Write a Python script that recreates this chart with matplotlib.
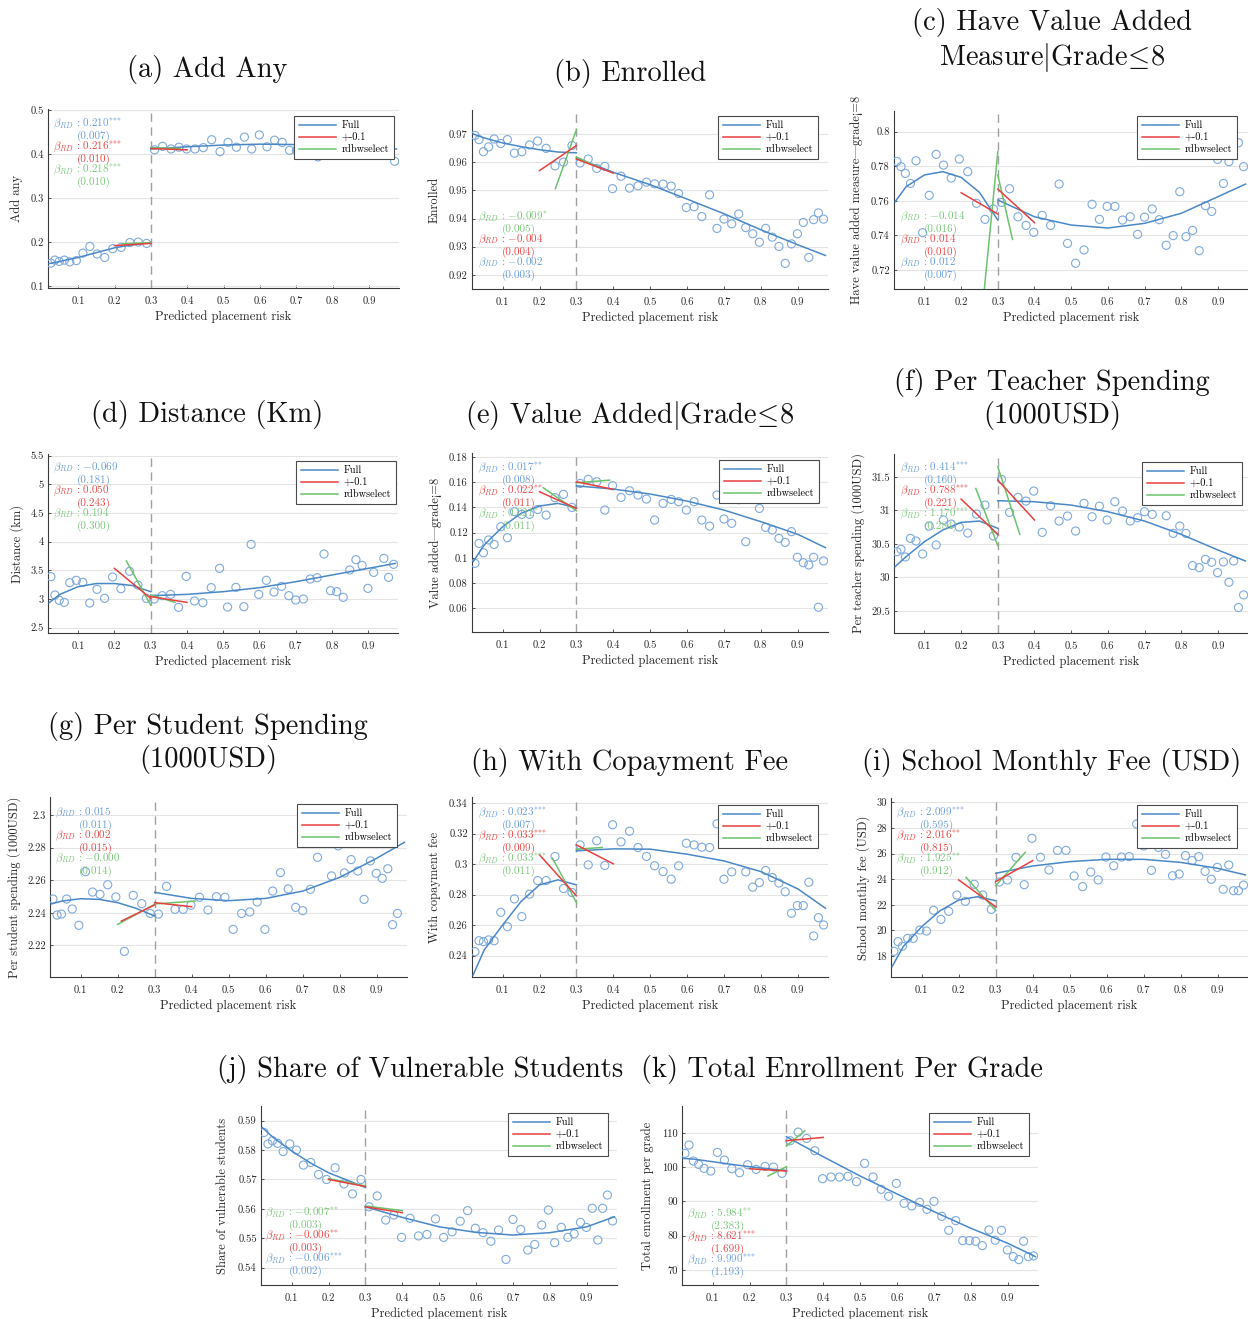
import numpy as np
import matplotlib
matplotlib.use("Agg")
import matplotlib.pyplot as plt
from matplotlib.ticker import FuncFormatter

plt.rcParams['font.family'] = ['cmr10', 'DejaVu Serif']
plt.rcParams['mathtext.fontset'] = 'cm'
plt.rcParams['axes.unicode_minus'] = False
plt.rcParams['axes.formatter.use_mathtext'] = True

nan = float('nan')

# ---------------- common running variable bins ----------------
x_left = [0.025, 0.036, 0.048, 0.062, 0.077, 0.095, 0.113, 0.132, 0.152, 0.173,
          0.195, 0.218, 0.242, 0.265, 0.288]
x_right = [0.310, 0.332, 0.355, 0.377, 0.398, 0.421, 0.444, 0.467, 0.490, 0.512,
           0.535, 0.557, 0.577, 0.598, 0.619, 0.640, 0.661, 0.681, 0.700, 0.721,
           0.740, 0.759, 0.778, 0.796, 0.813, 0.831, 0.849, 0.866, 0.883, 0.899,
           0.915, 0.930, 0.943, 0.956, 0.970]
fit_x_left = [0.02, 0.05, 0.10, 0.15, 0.20, 0.25, 0.30]
fit_x_right = [0.30, 0.40, 0.50, 0.60, 0.70, 0.80, 0.90, 0.975]
x_ticks = [0.1, 0.2, 0.3, 0.4, 0.5, 0.6, 0.7, 0.8, 0.9]
legend_labels = ['Full', '+-0.1', 'rdbwselect']

# ---------------- (a) Add Any ----------------
a_left = [0.152, 0.159, 0.156, 0.159, 0.155, 0.158, 0.175, 0.190, 0.173, 0.165, 0.185, 0.188, 0.199, 0.200, 0.197]
a_right = [0.410, 0.418, 0.412, 0.416, 0.412, 0.412, 0.415, 0.433, 0.406, 0.427, 0.416, 0.439, 0.412, 0.444, 0.417,
           0.432, 0.427, 0.409, 0.409, nan, nan, 0.394, nan, nan, nan, nan, nan, nan, nan, nan, nan, nan, nan, 0.412, 0.384]
a_fit_left = [0.151, 0.156, 0.165, 0.176, 0.187, 0.194, 0.199]
a_fit_right = [0.412, 0.417, 0.421, 0.423, 0.422, 0.420, 0.416, 0.412]
a_red_x = [0.20, 0.30, 0.30, 0.40]
a_red_y = [0.192, 0.197, 0.413, 0.410]
a_green_x = [0.22, 0.30, 0.30, 0.38]
a_green_y = [0.196, 0.199, 0.415, 0.413]
a_beta = [0.210, 0.216, 0.218]
a_se = [0.007, 0.010, 0.010]
a_stars = ['***', '***', '***']

# ---------------- (b) Enrolled ----------------
b_left = [0.9695, 0.968, 0.9637, 0.9654, 0.9682, 0.9666, 0.968, 0.9632, 0.9637, 0.9661, 0.9675, 0.9649, 0.9587, 0.9600, 0.9659]
b_right = [0.9597, 0.9611, 0.9578, 0.9585, 0.9506, 0.955, 0.9508, 0.9516, 0.9529, 0.9523, 0.9522, 0.9515, 0.9489, 0.9439,
           0.9442, 0.9407, 0.9484, 0.9365, 0.9398, 0.9381, 0.9416, 0.9368, 0.9346, 0.9316, 0.9365, 0.9334, 0.9301, 0.9241,
           0.931, 0.9346, 0.9386, 0.9262, 0.9396, 0.942, 0.9398]
b_fit_left = [0.9700, 0.9686, 0.9668, 0.9655, 0.9644, 0.9636, 0.9633]
b_fit_right = [0.9615, 0.9564, 0.9520, 0.9469, 0.9417, 0.9360, 0.9307, 0.9269]
b_red_x = [0.20, 0.30, 0.30, 0.40]
b_red_y = [0.9570, 0.9659, 0.9611, 0.9561]
b_green_x = [0.243, 0.30, 0.30, 0.36]
b_green_y = [0.9506, 0.9715, 0.9618, 0.9582]
b_beta = [-0.002, -0.004, -0.009]
b_se = [0.003, 0.004, 0.005]
b_stars = ['', '', '*']

# ---------------- (c) Have value added measure ----------------
c_left = [0.7828, 0.7798, 0.7759, 0.7701, 0.7832, 0.7416, 0.7632, 0.7869, 0.7807, 0.7732, 0.7842, 0.7769, 0.7586, 0.7493, 0.7553]
c_right = [0.7591, 0.767, 0.7508, 0.7458, 0.7418, 0.7516, 0.7458, 0.7697, 0.7354, 0.7239, 0.7316, 0.758, 0.7493, 0.7568,
           0.7568, 0.7489, 0.7508, 0.7406, 0.7506, 0.7553, 0.7491, 0.7343, 0.7399, 0.7653, 0.7393, 0.7429, 0.7312, 0.7572,
           0.7539, 0.784, 0.7701, 0.7827, nan, 0.7936, 0.7798]
c_fit_left = [0.7595, 0.7682, 0.7750, 0.7769, 0.7736, 0.7649, 0.7489]
c_fit_right = [0.7605, 0.7508, 0.7460, 0.7443, 0.7470, 0.7528, 0.7624, 0.7697]
c_red_x = [0.20, 0.30, 0.30, 0.40]
c_red_y = [0.7647, 0.7524, 0.7668, 0.7474]
c_green_x = [0.26, 0.30, 0.30, 0.34]
c_green_y = [0.702, 0.7885, 0.775, 0.7377]
c_beta = [0.012, 0.014, -0.014]
c_se = [0.007, 0.010, 0.016]
c_stars = ['', '', '']

# ---------------- (d) Distance ----------------
d_left = [3.390, 3.070, 2.977, 2.942, 3.285, 3.326, 3.291, 2.930, 3.169, 3.012, 3.384, 3.180, 3.483, 3.244, 3.012]
d_right = [3.0, 3.058, 3.081, 2.855, 3.395, 2.965, 2.936, 3.198, 3.535, 2.860, 3.203, 2.866, 3.953, 3.081, 3.326,
           3.122, 3.221, 3.058, 2.983, 3.0, 3.349, 3.372, 3.785, 3.145, 3.128, 3.029, 3.506, 3.686, 3.587, 3.186,
           3.465, nan, 3.709, 3.378, 3.605]
d_fit_left = [2.936, 3.081, 3.215, 3.270, 3.270, 3.235, 3.128]
d_fit_right = [3.058, 3.081, 3.128, 3.198, 3.302, 3.419, 3.535, 3.622]
d_red_x = [0.20, 0.30, 0.30, 0.40]
d_red_y = [3.535, 3.012, 3.041, 2.942]
d_green_x = [0.233, 0.30, 0.30, 0.367]
d_green_y = [3.663, 2.895, 3.070, 2.942]
d_beta = [-0.069, 0.050, 0.194]
d_se = [0.181, 0.243, 0.300]
d_stars = ['', '', '']

# ---------------- (e) Value added ----------------
e_left = [0.0956, 0.1114, 0.1040, 0.1141, 0.1106, 0.1246, 0.1159, 0.1365, 0.1344, 0.1344, 0.1383, 0.1338, 0.1476, 0.1502, 0.1399]
e_right = [0.1589, 0.1621, 0.1602, 0.1378, 0.1571, 0.1478, 0.1531, 0.1497, 0.1465, 0.1299, 0.1431, 0.1462, 0.1444,
           0.1378, 0.1444, 0.1299, 0.1251, 0.1497, 0.1307, 0.1273, 0.146, 0.1127, nan, 0.1391, 0.1241, 0.1220, 0.1154,
           0.1122, 0.1207, 0.1004, 0.0961, 0.0943, 0.1004, 0.0608, 0.0975]
e_fit_left = [0.0969, 0.1101, 0.1246, 0.1352, 0.1410, 0.1431, 0.1397]
e_fit_right = [0.1570, 0.1544, 0.1505, 0.1449, 0.1378, 0.1286, 0.1186, 0.1080]
e_red_x = [0.20, 0.30, 0.30, 0.40]
e_red_y = [0.1523, 0.1391, 0.1602, 0.1542]
e_green_x = [0.21, 0.30, 0.30, 0.39]
e_green_y = [0.1555, 0.1373, 0.1594, 0.1615]
e_beta = [0.017, 0.022, 0.021]
e_se = [0.008, 0.011, 0.011]
e_stars = ['**', '**', '*']

# ---------------- (f) Per teacher spending ----------------
f_left = [30.383, 30.418, 30.304, 30.582, 30.542, 30.349, 30.765, 30.483, 30.855, 30.795, 30.751, 30.661, 30.944, 31.078, 30.617]
f_right = [31.460, 30.969, 31.192, 31.138, 31.287, 30.671, 31.068, 30.840, 30.914, 30.691, 31.103, 30.904, 31.063,
           30.855, 31.128, 30.989, 30.840, 30.890, 30.979, 30.939, nan, 30.919, 30.656, 30.765, 30.656, 30.175,
           30.145, 30.269, 30.225, 30.071, 30.230, 29.927, 30.244, 29.550, 29.738]
f_fit_left = [30.160, 30.309, 30.532, 30.706, 30.820, 30.840, 30.731]
f_fit_right = [31.143, 31.128, 31.078, 30.979, 30.840, 30.641, 30.408, 30.244]
f_red_x = [0.20, 0.30, 0.30, 0.40]
f_red_y = [31.167, 30.641, 31.450, 30.855]
f_green_x = [0.24, 0.30, 0.30, 0.36]
f_green_y = [31.326, 30.473, 31.649, 30.641]
f_beta = [0.414, 0.788, 1.170]
f_se = [0.160, 0.221, 0.284]
f_stars = ['***', '***', '***']

# ---------------- (g) Per student spending ----------------
g_left = [2.2484, 2.2386, 2.2392, 2.2484, 2.2423, 2.2323, 2.2652, 2.2527, 2.2513, 2.2572, 2.2497, 2.2163, 2.2507, 2.2456, 2.2396]
g_right = [2.2392, 2.2562, 2.2421, 2.2421, 2.2446, 2.2495, 2.2417, 2.2499, 2.2495, 2.2298, 2.2396, 2.2405, 2.2466,
           2.2298, 2.2533, 2.2646, 2.2546, 2.2433, 2.2413, 2.2544, 2.274, nan, 2.2626, 2.281, 2.2644, 2.2726, 2.2656,
           2.2482, 2.2718, 2.2642, 2.2611, 2.267, 2.2327, 2.2396, nan]
g_fit_left = [2.2454, 2.2472, 2.2486, 2.2482, 2.2462, 2.2427, 2.2380]
g_fit_right = [2.2525, 2.2488, 2.2474, 2.2488, 2.2533, 2.2617, 2.2734, 2.2832]
g_red_x = [0.21, 0.30, 0.30, 0.40]
g_red_y = [2.2349, 2.2448, 2.2462, 2.2437]
g_green_x = [0.20, 0.30, 0.30, 0.41]
g_green_y = [2.2329, 2.2452, 2.2454, 2.2472]
g_beta = [0.015, 0.002, -0.0004]
g_se = [0.011, 0.015, 0.014]
g_stars = ['', '', '']

# ---------------- (h) With copayment fee ----------------
h_left = [0.2426, 0.2498, 0.2492, 0.2503, 0.2498, 0.2684, 0.2590, 0.2772, 0.2656, 0.2803, 0.2892, 0.2892, 0.3050, 0.2840, 0.2814]
h_right = [0.3126, 0.2995, 0.3153, 0.2991, 0.3258, 0.3146, 0.3216, 0.3109, 0.3050, 0.2989, 0.2951, 0.2901, 0.2989,
           0.3137, 0.3126, 0.3111, 0.3109, 0.3264, 0.2901, 0.2949, nan, 0.2949, 0.2849, 0.2879, 0.2958, 0.2912,
           0.2876, 0.2819, 0.2678, 0.2728, 0.2728, 0.2881, 0.2529, 0.2649, 0.2601]
h_fit_left = [0.2273, 0.2437, 0.2601, 0.2755, 0.2864, 0.2897, 0.2864]
h_fit_right = [0.3087, 0.3100, 0.3098, 0.3065, 0.3021, 0.2951, 0.2838, 0.2711]
h_red_x = [0.20, 0.30, 0.30, 0.40]
h_red_y = [0.3061, 0.2792, 0.3126, 0.3002]
h_green_x = [0.235, 0.30, 0.30, 0.37]
h_green_y = [0.3039, 0.2748, 0.3098, 0.3109]
h_beta = [0.023, 0.033, 0.033]
h_se = [0.007, 0.009, 0.011]
h_stars = ['***', '***', '***']

# ---------------- (i) School monthly fee ----------------
i_left = [18.37, 19.12, 18.76, 19.38, 19.38, 20.03, 19.95, 21.57, 20.86, 21.49, 22.76, 22.27, 23.60, 22.76, 21.64]
i_right = [23.78, 23.94, 25.71, 23.57, 27.19, 25.71, 24.72, 26.25, 26.25, 24.25, 23.42, 24.56, 23.94, 25.73, 25.05,
           25.73, 25.76, 28.31, 26.59, 24.69, 26.49, 25.94, 24.27, 24.40, 25.84, 25.45, 25.76, 24.61, 23.99, 24.92,
           23.21, 25.11, 23.10, 23.10, 23.54]
i_fit_left = [17.17, 18.73, 20.29, 21.54, 22.37, 22.63, 22.32]
i_fit_right = [24.46, 25.03, 25.37, 25.55, 25.55, 25.31, 24.85, 24.33]
i_red_x = [0.20, 0.30, 0.30, 0.40]
i_red_y = [23.94, 21.85, 23.81, 25.45]
i_green_x = [0.22, 0.30, 0.30, 0.38]
i_green_y = [24.14, 21.54, 23.49, 26.10]
i_beta = [2.099, 2.016, 1.925]
i_se = [0.595, 0.815, 0.912]
i_stars = ['***', '**', '**']

# ---------------- (j) Share of vulnerable students ----------------
j_left = [0.5860, 0.5821, 0.5832, 0.5823, 0.5795, 0.5821, 0.5800, 0.5749, 0.5758, 0.5717, 0.5700, 0.5740, 0.5685, 0.5651, 0.5700]
j_right = [0.5607, 0.5644, 0.5562, 0.5579, 0.5503, 0.5568, 0.5508, 0.5513, 0.5566, 0.5503, 0.5522, 0.5558, 0.5594,
           0.5534, 0.5519, 0.5490, 0.5528, 0.5428, 0.5564, 0.5530, 0.5460, 0.5479, 0.5545, 0.5596, 0.5485, 0.5537,
           0.5503, 0.5515, 0.5554, 0.5537, 0.5602, 0.5494, 0.5602, 0.5647, 0.5559]
j_fit_left = [0.5877, 0.5843, 0.5797, 0.5757, 0.5723, 0.5698, 0.5673]
j_fit_right = [0.5607, 0.5571, 0.5539, 0.5520, 0.5511, 0.5519, 0.5539, 0.5573]
j_red_x = [0.20, 0.30, 0.30, 0.40]
j_red_y = [0.5700, 0.5676, 0.5607, 0.5587]
j_green_x = [0.20, 0.30, 0.30, 0.40]
j_green_y = [0.5703, 0.5678, 0.5610, 0.5594]
j_beta = [-0.006, -0.006, -0.007]
j_se = [0.002, 0.003, 0.003]
j_stars = ['***', '**', '**']

# ---------------- (k) Total enrollment per grade ----------------
k_left = [103.98, 106.41, 101.75, 100.78, 99.61, 98.83, 104.27, 102.04, 99.51, 98.35, 100.68, 99.32, 100.19, 100.0, 98.16]
k_right = [107.67, 110.19, 108.35, 104.76, 96.60, 97.09, 97.09, 97.28, 95.73, 101.07, 97.09, 93.50, 91.46, 95.24,
           89.42, 88.64, 89.71, 87.67, 90.0, 85.63, 81.55, 84.37, 78.54, 78.54, 78.35, 77.09, 81.65, 78.64, 81.55,
           75.83, 73.88, 73.01, 78.35, 73.88, 74.08]
k_fit_left = [102.52, 102.30, 101.55, 100.80, 100.10, 99.50, 98.93]
k_fit_right = [108.83, 103.00, 97.38, 92.14, 87.00, 82.14, 77.77, 73.88]
k_red_x = [0.20, 0.30, 0.30, 0.40]
k_red_y = [99.51, 98.83, 107.67, 108.64]
k_green_x = [0.25, 0.30, 0.30, 0.35]
k_green_y = [97.38, 100.10, 106.12, 110.58]
k_beta = [9.990, 8.621, 5.984]
k_se = [1.193, 1.699, 2.383]
k_stars = ['***', '***', '**']

# ---------------- styling ----------------
W, H = 1248, 1319
BLUE = '#4a88c7'
SCAT = '#7eaadc'
RED = '#e8403e'
GREEN = '#6cc26c'
TXT = {'b': '#6d9fd8', 'r': '#ee4a4a', 'g': '#7cc77c'}
GRID = '#e4e4e4'
AX = '#3a3a3a'

fig = plt.figure(figsize=(W / 100, H / 100), dpi=100)
fig.patch.set_facecolor('white')


def fx(x):
    return x / W


def fy(y):
    return 1 - y / H


LEQ = r'$\!\leq\!$'
panels = [
    dict(d=(a_left, a_right, a_fit_left, a_fit_right, a_red_x, a_red_y, a_green_x, a_green_y, a_beta, a_se, a_stars),
         rect=(48, 109, 399, 288), ylim=(0.0955, 0.503), yt=(0.1, 0.5, 0.1),
         title='(a) Add Any', tpos=(207, 70), ylabel='Add any', ylx=17,
         leg=(394, 116), ann=(53, 124), order='brg'),
    dict(d=(b_left, b_right, b_fit_left, b_fit_right, b_red_x, b_red_y, b_green_x, b_green_y, b_beta, b_se, b_stars),
         rect=(472, 110, 828, 289), ylim=(0.915, 0.9785), yt=(0.92, 0.97, 0.01),
         title='(b) Enrolled', tpos=(630, 73), ylabel='Enrolled', ylx=435,
         leg=(818, 116), ann=(478, 217), order='grb'),
    dict(d=(c_left, c_right, c_fit_left, c_fit_right, c_red_x, c_red_y, c_green_x, c_green_y, c_beta, c_se, c_stars),
         rect=(894, 111, 1248, 289), ylim=(0.709, 0.812), yt=(0.72, 0.80, 0.02),
         title='(c) Have Value Added\nMeasure$|$Grade' + LEQ + '8', tpos=(1052, 41),
         ylabel='Have value added measure|grade<=8', ylx=857,
         leg=(1237, 116), ann=(900, 217), order='grb'),
    dict(d=(d_left, d_right, d_fit_left, d_fit_right, d_red_x, d_red_y, d_green_x, d_green_y, d_beta, d_se, d_stars),
         rect=(48, 454, 398, 633), ylim=(2.407, 5.53), yt=(2.5, 5.5, 0.5),
         title='(d) Distance (Km)', tpos=(207, 415), ylabel='Distance (km)', ylx=17,
         leg=(396, 461), ann=(53, 468), order='brg'),
    dict(d=(e_left, e_right, e_fit_left, e_fit_right, e_red_x, e_red_y, e_green_x, e_green_y, e_beta, e_se, e_stars),
         rect=(472, 453, 828, 632), ylim=(0.0412, 0.183), yt=(0.06, 0.18, 0.02),
         title='(e) Value Added$|$Grade' + LEQ + '8', tpos=(630, 416),
         ylabel='Value added|grade<=8', ylx=436,
         leg=(819, 460), ann=(478, 468), order='brg'),
    dict(d=(f_left, f_right, f_fit_left, f_fit_right, f_red_x, f_red_y, f_green_x, f_green_y, f_beta, f_se, f_stars),
         rect=(894, 454, 1248, 633), ylim=(29.17, 31.84), yt=(29.5, 31.5, 0.5),
         title='(f) Per Teacher Spending\n(1000USD)', tpos=(1052, 399),
         ylabel='Per teacher spending (1000USD)', ylx=858,
         leg=(1242, 462), ann=(900, 468), order='brg'),
    dict(d=(g_left, g_right, g_fit_left, g_fit_right, g_red_x, g_red_y, g_green_x, g_green_y, g_beta, g_se, g_stars),
         rect=(50, 797, 407, 977), ylim=(2.2006, 2.311), yt=(2.22, 2.30, 0.02),
         title='(g) Per Student Spending\n(1000USD)', tpos=(208, 743),
         ylabel='Per student spending (1000USD)', ylx=14,
         leg=(397, 804), ann=(55, 813), order='brg'),
    dict(d=(h_left, h_right, h_fit_left, h_fit_right, h_red_x, h_red_y, h_green_x, h_green_y, h_beta, h_se, h_stars),
         rect=(472, 797, 828, 977), ylim=(0.226, 0.344), yt=(0.24, 0.34, 0.02),
         title='(h) With Copayment Fee', tpos=(630, 762),
         ylabel='With copayment fee', ylx=435,
         leg=(818, 805), ann=(478, 813), order='brg'),
    dict(d=(i_left, i_right, i_fit_left, i_fit_right, i_red_x, i_red_y, i_green_x, i_green_y, i_beta, i_se, i_stars),
         rect=(891, 798, 1248, 977), ylim=(16.36, 30.34), yt=(18, 30, 2),
         title='(i) School Monthly Fee (USD)', tpos=(1052, 762),
         ylabel='School monthly fee (USD)', ylx=863,
         leg=(1237, 805), ann=(896, 813), order='brg'),
    dict(d=(j_left, j_right, j_fit_left, j_fit_right, j_red_x, j_red_y, j_green_x, j_green_y, j_beta, j_se, j_stars),
         rect=(261, 1106, 617, 1285), ylim=(0.5341, 0.595), yt=(0.54, 0.59, 0.01),
         title='(j) Share of Vulnerable Students', tpos=(420, 1069),
         ylabel='Share of vulnerable students', ylx=223,
         leg=(608, 1113), ann=(265, 1213), order='grb'),
    dict(d=(k_left, k_right, k_fit_left, k_fit_right, k_red_x, k_red_y, k_green_x, k_green_y, k_beta, k_se, k_stars),
         rect=(682, 1106, 1038, 1285), ylim=(65.6, 117.8), yt=(70, 110, 10),
         title='(k) Total Enrollment Per Grade', tpos=(842, 1069),
         ylabel='Total enrollment per grade', ylx=648,
         leg=(1029, 1113), ann=(687, 1214), order='grb'),
]

fmt = FuncFormatter(lambda v, p: f'{v:g}')

for P in panels:
    (yl, yr, fl, fr, rx, ry, gx, gy, beta, se, stars) = P['d']
    L, T, R, B = P['rect']
    ax = fig.add_axes([fx(L), fy(B), (R - L) / W, (B - T) / H])
    ax.set_xlim(0.017, 0.982)
    ax.set_ylim(*P['ylim'])
    y0, y1, st = P['yt']
    ax.set_yticks(np.round(np.arange(y0, y1 + st / 2, st), 6))
    ax.set_xticks(x_ticks)
    ax.xaxis.set_major_formatter(fmt)
    ax.yaxis.set_major_formatter(fmt)
    ax.yaxis.grid(True, color=GRID, lw=0.8)
    ax.set_axisbelow(True)
    for s in ('top', 'right'):
        ax.spines[s].set_visible(False)
    for s in ('left', 'bottom'):
        ax.spines[s].set_color(AX)
        ax.spines[s].set_linewidth(0.8)
    ax.tick_params(direction='in', length=2.5, width=0.6, color=AX, labelcolor='#262626',
                   labelsize=7.6)
    ax.tick_params(axis='x', pad=6)
    ax.tick_params(axis='y', pad=3)
    ax.set_xlabel('Predicted placement risk', fontsize=9, color='#262626', labelpad=3)

    ax.axvline(0.3, color='#a0a0a0', lw=1.0, dashes=(6, 4), zorder=2)
    ax.scatter(x_left, yl, s=34, facecolors='none', edgecolors=SCAT, linewidths=0.8, zorder=3)
    ax.scatter(x_right, yr, s=34, facecolors='none', edgecolors=SCAT, linewidths=0.8, zorder=3)
    full, = ax.plot(fit_x_left, fl, color=BLUE, lw=1.1, zorder=4)
    ax.plot(fit_x_right, fr, color=BLUE, lw=1.1, zorder=4)
    gl, = ax.plot(gx[:2], gy[:2], color=GREEN, lw=1.1, zorder=5)
    ax.plot(gx[2:], gy[2:], color=GREEN, lw=1.1, zorder=5)
    rl, = ax.plot(rx[:2], ry[:2], color=RED, lw=1.1, zorder=6)
    ax.plot(rx[2:], ry[2:], color=RED, lw=1.1, zorder=6)

    leg = ax.legend([full, rl, gl], legend_labels, loc='upper right',
                    bbox_to_anchor=(fx(P['leg'][0]), fy(P['leg'][1])),
                    bbox_transform=fig.transFigure, borderaxespad=0, fontsize=7.4,
                    handlelength=3.6, handletextpad=0.6, borderpad=0.45, labelspacing=0.25,
                    fancybox=False, framealpha=1, edgecolor='#4a4a4a')
    leg.get_frame().set_linewidth(0.8)
    leg.set_zorder(20)

    # annotation of RD estimates
    idx = {'b': 0, 'r': 1, 'g': 2}
    axp, ayp = P['ann']
    for n, c in enumerate(P['order']):
        k = idx[c]
        val = f'{beta[k]:.3f}'
        if stars[k]:
            sup = ''.join('{*}' for _ in stars[k])
            s1 = r'$\beta_{RD}$ : $' + val + '^{' + sup + '}$'
        else:
            s1 = r'$\beta_{RD}$ : $' + val + '$'
        s2 = f'({se[k]:.3f})'
        yy = ayp + n * 23
        fig.text(fx(axp), fy(yy), s1, color=TXT[c], fontsize=8.0, ha='left', va='center', zorder=30)
        fig.text(fx(axp + 24), fy(yy + 12), s2, color=TXT[c], fontsize=8.0, ha='left', va='center', zorder=30)

    fig.text(fx(P['tpos'][0]), fy(P['tpos'][1]), P['title'], fontsize=20.5, ha='center', va='center',
             linespacing=1.15, color='#111111')
    fig.text(fx(P['ylx']), fy((T + B) / 2), P['ylabel'], fontsize=9, rotation=90, ha='center', va='center',
             color='#262626')

fig.savefig('out.png', dpi=100, facecolor='white')
